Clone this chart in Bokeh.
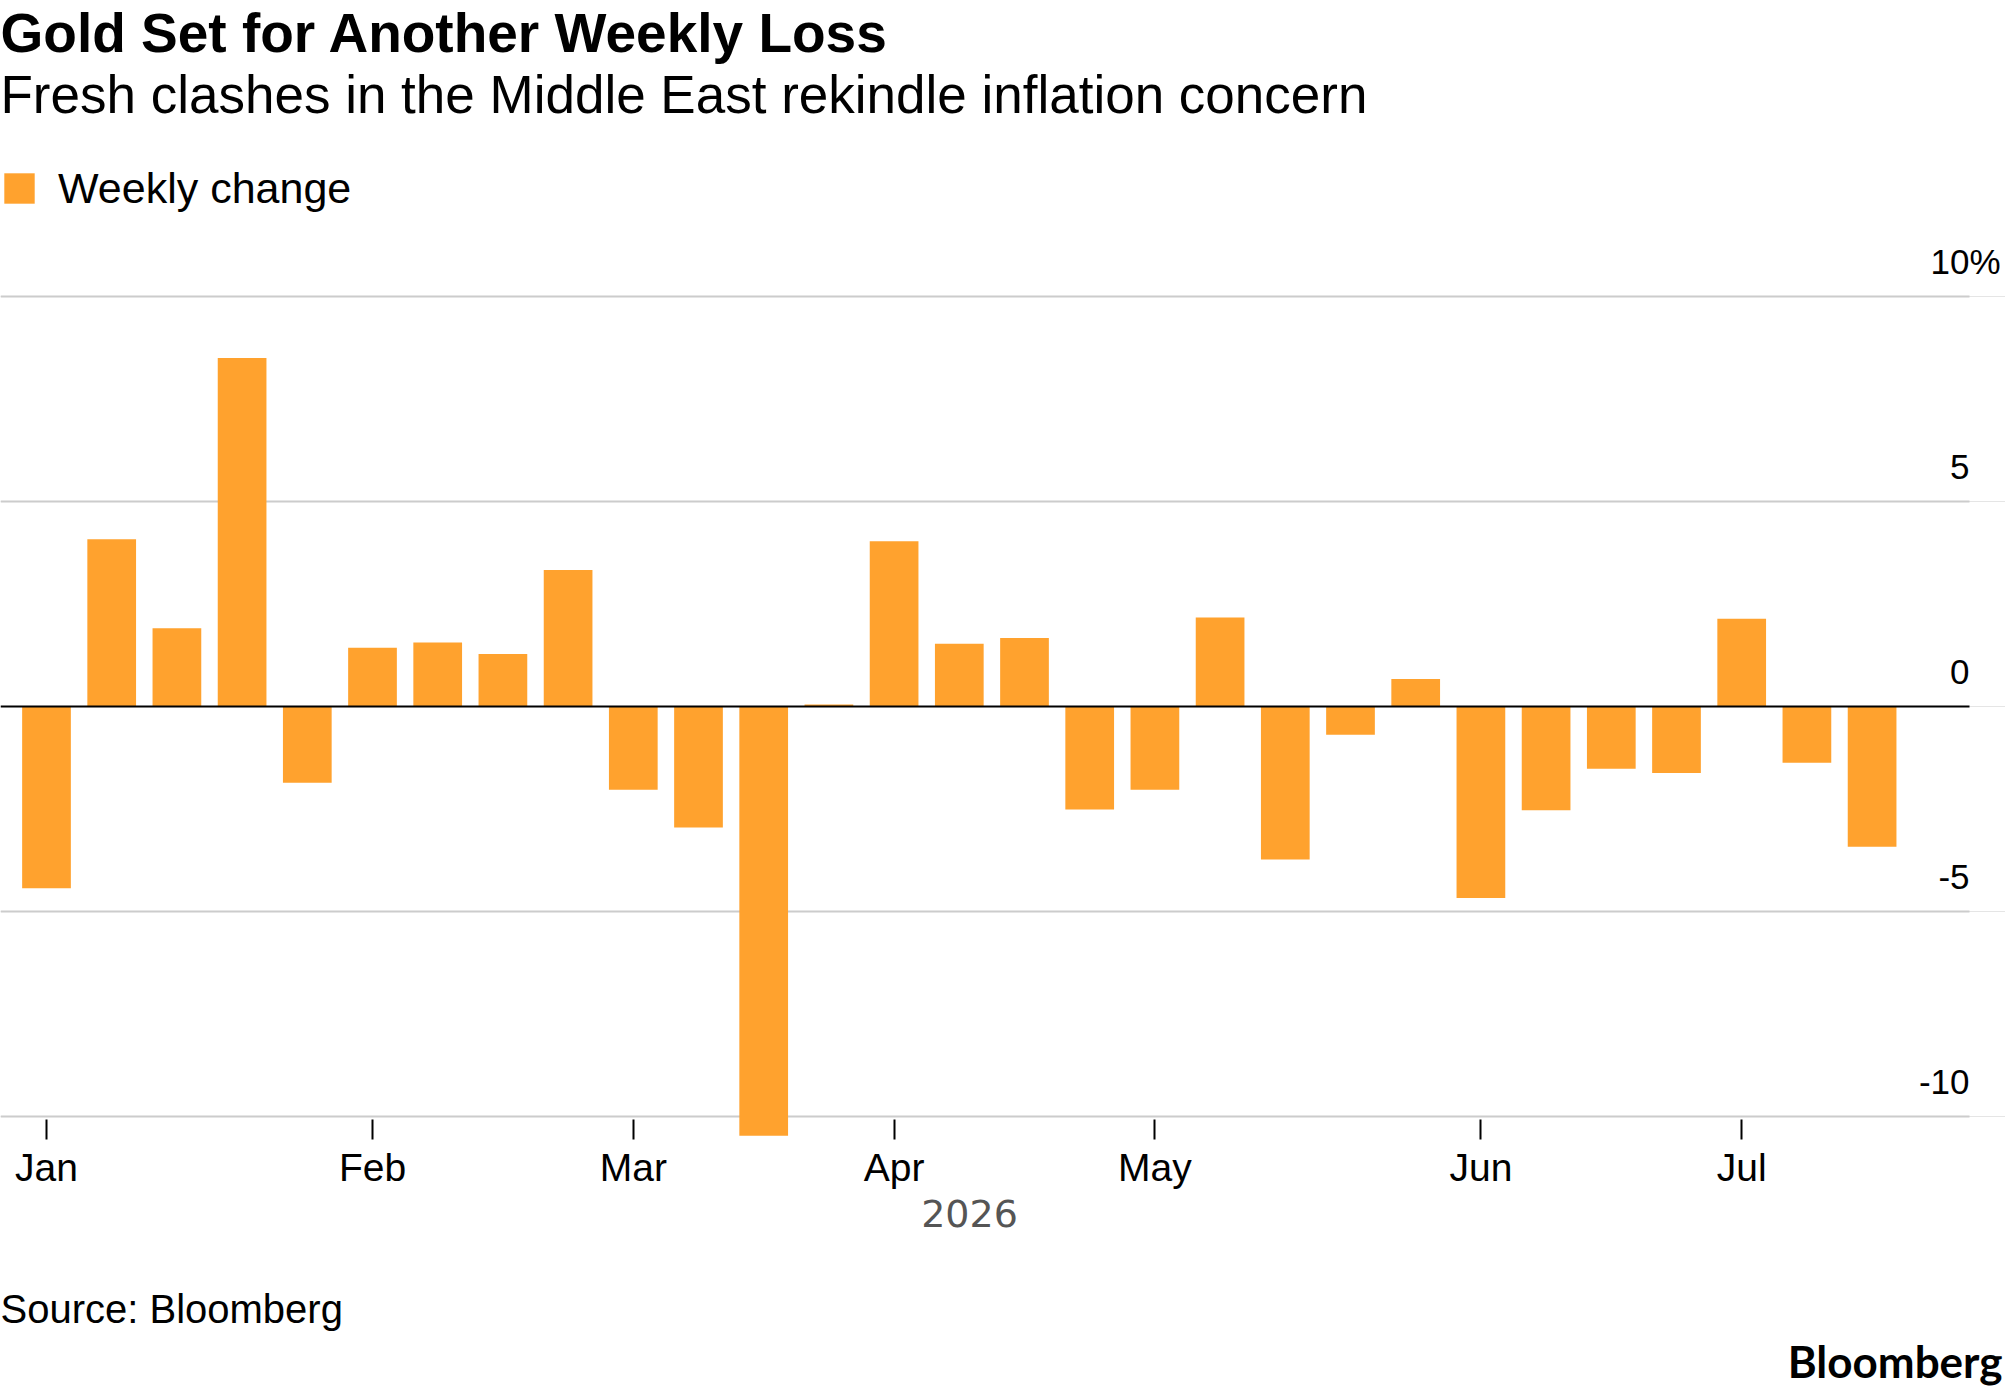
import pandas as pd
from bokeh.plotting import figure
from bokeh.layouts import column
from bokeh.models import (FixedTicker, DatetimeTickFormatter, Label, Legend, LegendItem, Range1d)
from bokeh.core.properties import value
from bokeh.embed import file_html
from bokeh.resources import INLINE

# ---- data ----
weeks = ["2026-01-02", "2026-01-09", "2026-01-16", "2026-01-23", "2026-01-30",
         "2026-02-06", "2026-02-13", "2026-02-20", "2026-02-27",
         "2026-03-06", "2026-03-13", "2026-03-20", "2026-03-27",
         "2026-04-03", "2026-04-10", "2026-04-17", "2026-04-24",
         "2026-05-01", "2026-05-08", "2026-05-15", "2026-05-22", "2026-05-29",
         "2026-06-05", "2026-06-12", "2026-06-19", "2026-06-26",
         "2026-07-03", "2026-07-10", "2026-07-17"]
weekly_change = [-4.43, 4.08, 1.91, 8.50, -1.86, 1.43, 1.56, 1.28, 3.33,
                 -2.03, -2.95, -10.47, 0.05, 4.03, 1.53, 1.67, -2.51,
                 -2.03, 2.17, -3.73, -0.69, 0.67, -4.67, -2.53, -1.52, -1.62,
                 2.14, -1.37, -3.42]
month_ticks = ["2026-01-02", "2026-02-06", "2026-03-06", "2026-04-03",
               "2026-05-01", "2026-06-05", "2026-07-03"]
y_ticks = [10, 5, 0, -5, -10]
y_tick_labels = ["10", "5", "0", "-5", "-10"]
grid_ticks = [-10, -5, 5, 10]

title = "Gold Set for Another Weekly Loss"
subtitle = "Fresh clashes in the Middle East rekindle inflation concern"
series_name = "Weekly change"
year_label = "2026"
source = "Source: Bloomberg"
brand = "Bloomberg"

ORANGE = "#ffa22e"
GRID = "#cccccc"
FONT = "Liberation Sans"

# ---- layout constants (pixels) ----
W = 2005
TOTAL_H = 1392
TOP_H = 243              # header figure height
FRAME_H = 896            # main plot frame height
AXIS_H = 52              # space below the frame for month labels
MAIN_H = FRAME_H + AXIS_H
BOT_Y0 = TOP_H + MAIN_H
BOT_H = TOTAL_H - BOT_Y0
PX_WEEK = 65.2           # pixels per week
PX_UNIT = 41.0           # pixels per percentage point
FIRST_PX = 46            # first bar centre from frame left
GRID_END_PX = 1969       # where grid lines end
BASE_FIX = 0.36          # baseline correction (fraction of font size)

dates = pd.to_datetime(weeks)
DAY = 86400000.0
t0 = dates[0]
px_day = PX_WEEK / 7.0
x_start = t0 - pd.Timedelta(days=FIRST_PX / px_day)
x_end = t0 + pd.Timedelta(days=(W - FIRST_PX) / px_day)
x_grid_end = t0 + pd.Timedelta(days=(GRID_END_PX - FIRST_PX) / px_day)
y_lo = -10 - 23 / PX_UNIT
y_hi = y_lo + FRAME_H / PX_UNIT


def bare(fig):
    fig.outline_line_color = None
    fig.background_fill_color = "white"
    fig.border_fill_color = "white"
    return fig


def strip(fig):
    fig.xgrid.visible = False
    fig.ygrid.visible = False
    return fig


def screen_label(fig, h, y0, text, x, y_base, size, bold=False, align="left",
                 color="black", font=FONT):
    y_spec = y_base - BASE_FIX * size
    fig.add_layout(Label(x=x, y=h - (y_spec - y0), x_units="screen", y_units="screen",
                         text=text, text_align=align, text_baseline="alphabetic",
                         text_font=font, text_font_size=f"{size}px",
                         text_font_style="bold" if bold else "normal",
                         text_color=color))


# ---- header ----
top = strip(bare(figure(width=W, height=TOP_H, toolbar_location=None, output_backend="svg",
                        x_axis_location=None, y_axis_location=None,
                        x_range=Range1d(0, 1), y_range=Range1d(0, 1),
                        min_border_left=0, min_border_right=0,
                        min_border_top=0, min_border_bottom=0)))
screen_label(top, TOP_H, 0, title, 0, 52, 55, bold=True)
screen_label(top, TOP_H, 0, subtitle, 0, 113, 53)
swatch = top.vbar(x=dates, top=weekly_change, width=5.23 * DAY,
                  fill_color=ORANGE, line_color=None)
LEG_ROW = 54
legend = Legend(items=[LegendItem(label=series_name, renderers=[swatch])],
                location=(0, TOP_H - (161 + LEG_ROW)), orientation="horizontal",
                glyph_width=38, glyph_height=38, label_standoff=20, label_height=LEG_ROW,
                padding=0, margin=0, spacing=0, border_line_color=None,
                background_fill_alpha=0, label_text_font=FONT,
                label_text_baseline="alphabetic",
                label_text_font_size="43px", label_text_color="black")
top.add_layout(legend)

# ---- main chart ----
p = bare(figure(width=W, height=MAIN_H, x_axis_type="datetime", y_axis_location=None,
                toolbar_location=None, output_backend="svg",
                x_range=Range1d(x_start, x_end), y_range=Range1d(y_lo, y_hi),
                min_border_left=0, min_border_right=0,
                min_border_top=0, min_border_bottom=AXIS_H))
p.xgrid.visible = False

p.segment(x0=[x_start] * len(grid_ticks), y0=grid_ticks,
          x1=[x_grid_end] * len(grid_ticks), y1=grid_ticks,
          line_color=GRID, line_width=2)

p.vbar(x=dates, top=weekly_change, bottom=0, width=5.23 * DAY,
       fill_color=ORANGE, line_color=None)

p.segment(x0=[x_start], y0=[0], x1=[x_grid_end], y1=[0], line_color="black", line_width=2)

p.text(x=[x_grid_end] * len(y_ticks), y=y_ticks, text=y_tick_labels,
       text_align="right", text_baseline="alphabetic", y_offset=-35,
       text_font=value(FONT), text_font_size=value("35px"), text_color="black")
p.text(x=[x_grid_end], y=[y_ticks[0]], text=["%"],
       text_align="left", text_baseline="alphabetic", y_offset=-35,
       text_font=value(FONT), text_font_size=value("35px"), text_color="black")

ax = p.xaxis[0]
ax.ticker = FixedTicker(ticks=[pd.Timestamp(d).value / 1e6 for d in month_ticks])
ax.formatter = DatetimeTickFormatter(microseconds="%b", milliseconds="%b", seconds="%b",
                                     minsec="%b", minutes="%b", hourmin="%b", hours="%b",
                                     days="%b", months="%b", years="%b")
ax.major_tick_in = 20
ax.major_tick_out = 0
ax.major_tick_line_width = 2
ax.major_tick_line_color = "black"
ax.minor_tick_line_color = None
ax.axis_line_color = None
ax.major_label_text_font = FONT
ax.major_label_text_font_size = "39px"
ax.major_label_text_color = "black"
ax.major_label_standoff = 6

# ---- footer ----
bot = strip(bare(figure(width=W, height=BOT_H, toolbar_location=None, output_backend="svg",
                        x_axis_location=None, y_axis_location=None,
                        x_range=Range1d(0, 1), y_range=Range1d(0, 1),
                        min_border_left=0, min_border_right=0,
                        min_border_top=0, min_border_bottom=0)))
screen_label(bot, BOT_H, BOT_Y0, year_label, 969, 1227, 38, align="center",
             color="#555555", font="DejaVu Sans")
screen_label(bot, BOT_H, BOT_Y0, source, 0, 1323, 40)
screen_label(bot, BOT_H, BOT_Y0, brand, 2002, 1376, 44, bold=True, align="right", font="Lato")

layout = column(top, p, bot, spacing=0)
open("out.html", "w").write(file_html(layout, INLINE))
